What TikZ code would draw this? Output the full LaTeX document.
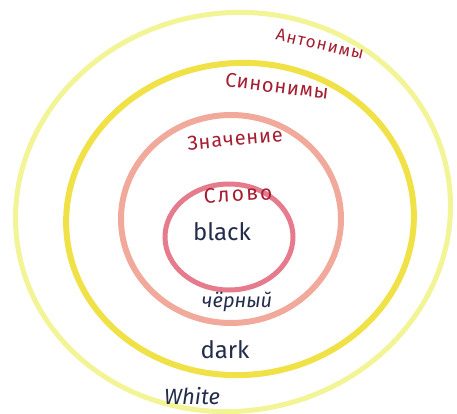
\documentclass[tikz,border=0pt]{standalone}
\usepackage{fontspec}
\setmainfont{Fira Sans}
\definecolor{antcol}{RGB}{242,244,150}
\definecolor{syncol}{RGB}{240,226,70}
\definecolor{mngcol}{RGB}{240,160,145}
\definecolor{wrdcol}{RGB}{225,100,120}
\definecolor{lblcol}{RGB}{165,30,50}
\definecolor{inkcol}{RGB}{35,45,75}
\tikzset{
  ring/.style={line width=#1, line cap=round},
  lbl/.style={text=lblcol, inner sep=0pt},
  word/.style={text=inkcol, inner sep=0pt},
}
\newcommand{\lblfont}[2]{\fontsize{#1}{#1}\selectfont\addfontfeature{LetterSpace=#2}}
\begin{document}
\begin{tikzpicture}[x=1pt,y=-1pt]
\useasboundingbox (0,0) rectangle (457,413);
\fill[white] (0,0) rectangle (457,413);
% rings
\draw[ring=5pt, antcol, rotate around={10:(233,212)}] (233,212) ellipse [x radius=218, y radius=199];
\draw[ring=6pt, syncol, rotate around={5:(240,219)}] (240,219) ellipse [x radius=174, y radius=156];
\draw[ring=6pt, mngcol, opacity=0.9] (231,219) ellipse [x radius=110, y radius=104];
\draw[ring=5pt, wrdcol, opacity=0.85] (229,237) ellipse [x radius=64, y radius=53];
% labels
\node[lbl, rotate=-13, font=\lblfont{17}{7}] (ant) at (320,44) {Антонимы};
\node[lbl, rotate=-7, font=\lblfont{20}{4}] (syn) at (277,86) {Синонимы};
\node[lbl, rotate=5, font=\lblfont{20}{4}] (mng) at (235,139) {Значение};
\node[lbl, rotate=3, font=\lblfont{21}{10}] (wrd) at (238,194) {Слово};
% words
\node[word, font=\fontsize{24}{24}\selectfont] (black) at (222,232) {black};
\node[word, font=\fontsize{20}{20}\selectfont\itshape] (cherny) at (237,302) {чёрный};
\node[word, font=\fontsize{24}{24}\selectfont] (dark) at (225,350) {dark};
\node[word, font=\fontsize{22}{22}\selectfont\itshape] (white) at (192,396) {White};
\end{tikzpicture}
\end{document}
